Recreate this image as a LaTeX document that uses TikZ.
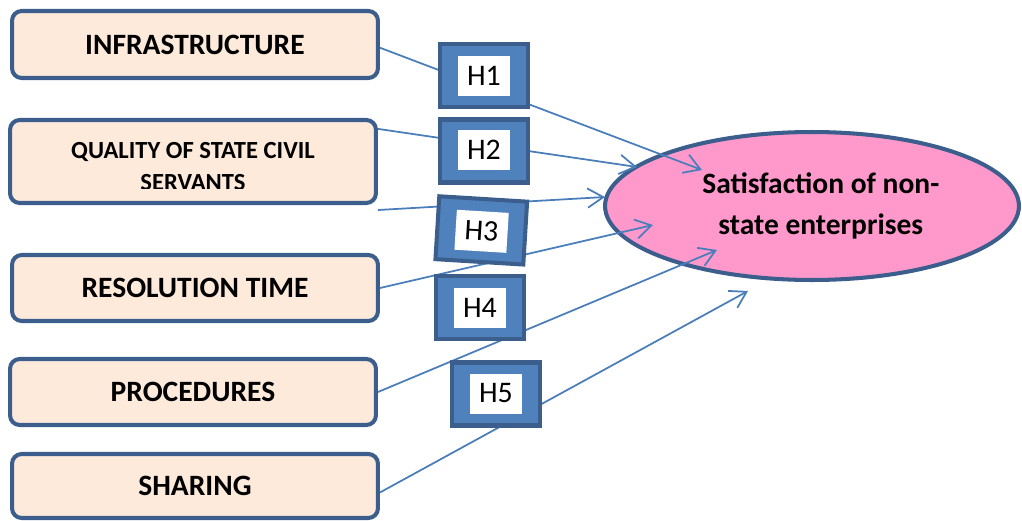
\documentclass[tikz,border=0pt]{standalone}
\usepackage{fontspec}
\setmainfont{Carlito}
\usepackage{tikz}
\usetikzlibrary{shapes.geometric,arrows.meta,positioning,calc}
\definecolor{peach}{HTML}{FDEADA}
\definecolor{frame}{HTML}{3B5E8C}
\definecolor{hblue}{HTML}{4F81BD}
\definecolor{link}{HTML}{4A7EBB}
\definecolor{pinkfill}{HTML}{FF99CC}

\begin{document}
\begin{tikzpicture}[x=0.02cm, y=-0.02cm,
    factor/.style={rectangle, draw=frame, fill=peach, line width=2.3pt,
                   rounded corners=5.5pt, minimum width=7.32cm, minimum height=1.32cm,
                   align=center, font=\fontsize{16.8}{20}\selectfont\bfseries},
    hypframe/.style={rectangle, draw=frame, fill=hblue, line width=2.3pt,
                     minimum width=1.76cm, minimum height=1.26cm, inner sep=0pt},
    hyplabel/.style={rectangle, fill=white, minimum width=1.04cm, minimum height=0.8cm,
                     inner sep=0pt, font=\fontsize{17}{20}\selectfont},
    target/.style={ellipse, draw=frame, fill=pinkfill, line width=2.3pt,
                   minimum width=8.28cm, minimum height=2.96cm, inner sep=0pt,
                   align=center, font=\fontsize{16.8}{23.3}\selectfont\bfseries},
    arrow/.style={-{Straight Barb[length=9pt,width=11pt]}, line width=1pt, color=link},
]
\useasboundingbox (0,0) rectangle (1022,521);

\node[factor, minimum height=1.34cm] (infra) at (195,44.5) {INFRASTRUCTURE};
\node[factor, minimum height=1.66cm] (quality) at (193,161.5) {};
\begin{scope}
  \clip (12,122) rectangle (374,188);
  \node[align=center, font=\fontsize{14}{18.2}\selectfont\bfseries] (qualitytext) at (193,166.5) {QUALITY OF STATE CIVIL\\SERVANTS};
\end{scope}
\node[factor] (restime) at (195,288) {RESOLUTION TIME};
\node[factor] (proc) at (193,392) {PROCEDURES};
\node[factor, minimum height=1.28cm] (sharing) at (195,486) {SHARING};

\node[target] (satisf) at (812,206) {\hspace*{10pt}Satisfaction of non-\\\hspace*{10pt}state enterprises};

\coordinate (q3) at ($(quality.south east)+(0,5)$);
\coordinate (t1) at (702,170);
\coordinate (t2) at (637,167);
\coordinate (t3) at (605,197);
\coordinate (t4) at (653,225);
\coordinate (t5) at (717,250);
\coordinate (t6) at (748,291);

\draw[arrow] (infra.-1) -- (t1);
\draw[arrow] (quality.10) -- (t2);
\draw[arrow] (q3) -- (t3);
\draw[arrow] (restime.east) -- (t4);
\draw[arrow] (proc.east) -- (t5);
\draw[arrow] (sharing.-2) -- (t6);

\node[hypframe] (h1f) at (484,75.5) {};
\node[hyplabel] (h1) at (484,76) {H1};
\node[hypframe] (h2f) at (484,151) {};
\node[hyplabel] (h2) at (484,150) {H2};
\node[hypframe, rotate=-3.5] (h3f) at (481.3,230.4) {};
\node[hyplabel, rotate=-3.5] (h3) at (481.6,231.3) {H3};
\node[hypframe] (h4f) at (480,307.5) {};
\node[hyplabel] (h4) at (480,307.5) {H4};
\node[hypframe] (h5f) at (496,394) {};
\node[hyplabel] (h5) at (496,393.5) {H5};

\end{tikzpicture}
\end{document}
